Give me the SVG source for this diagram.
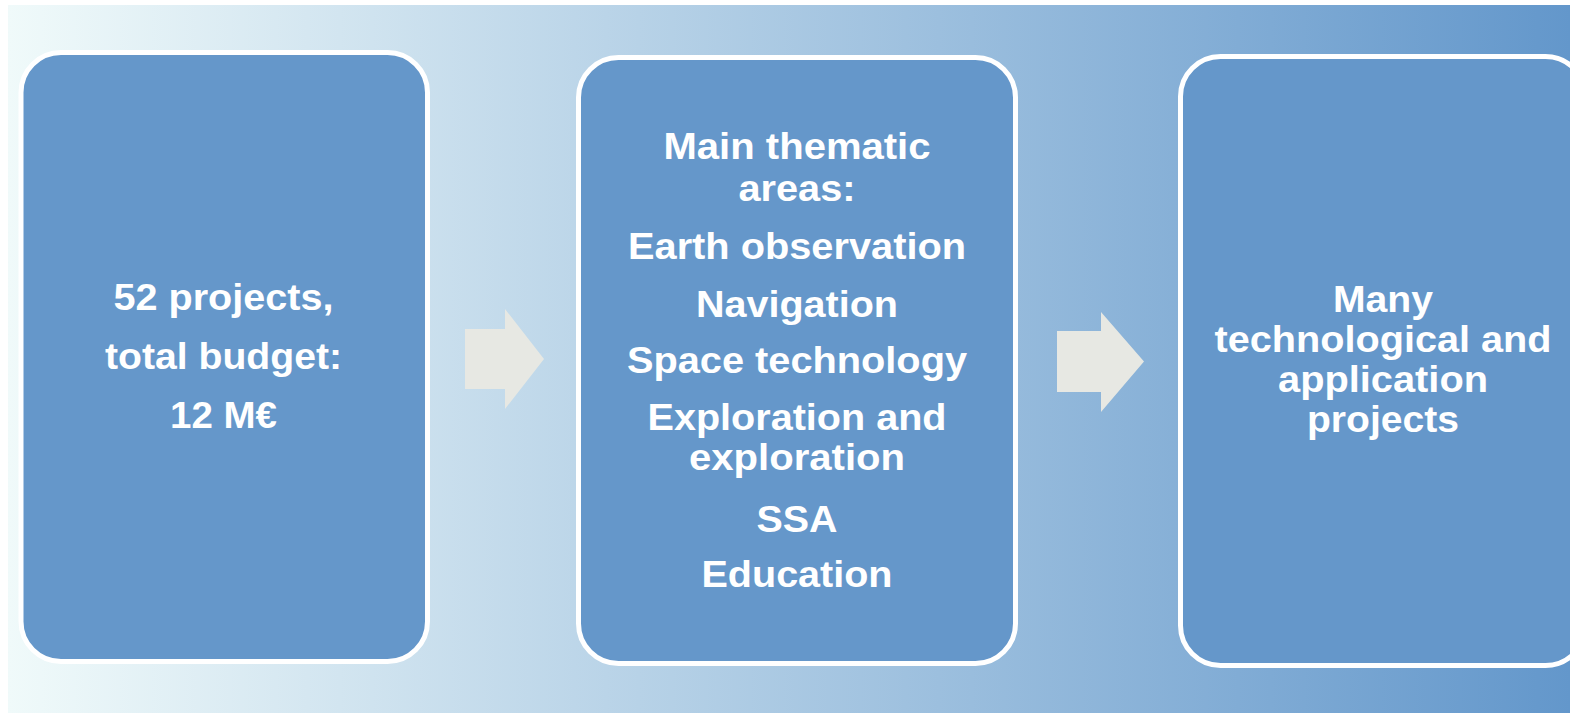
<svg xmlns="http://www.w3.org/2000/svg" width="1570" height="715" viewBox="0 0 1570 715">
  <defs>
    <linearGradient id="bg" x1="0" y1="0" x2="1" y2="0">
      <stop offset="0" stop-color="#F0FAFA"/>
      <stop offset="1" stop-color="#6397CB"/>
    </linearGradient>
    <style>
      .box { fill: #6597CA; stroke: #FFFFFF; stroke-width: 5; }
      .arrow { fill: #E7E8E3; }
      .t { font-family: "Liberation Sans", Arial, sans-serif; font-weight: bold; font-size: 37px; fill: #FFFFFF; text-anchor: middle; }
    </style>
  </defs>
  <rect x="0" y="0" width="1570" height="715" fill="#FFFFFF"/>
  <rect x="8" y="5" width="1562" height="708" fill="url(#bg)"/>

  <g id="connectors">
    <polygon class="arrow" points="465,329 505,329 505,309 544,359 505,409 505,389 465,389"/>
    <polygon class="arrow" points="1057,331 1101,331 1101,312 1144,361.5 1101,412 1101,392 1057,392"/>
  </g>

  <g id="node1">
    <rect class="box" x="21" y="52.5" width="406.5" height="609" rx="40" ry="40"/>
    <text class="t" x="223.5" y="310" textLength="220" lengthAdjust="spacingAndGlyphs">52 projects,</text>
    <text class="t" x="223.5" y="369" textLength="237" lengthAdjust="spacingAndGlyphs">total budget:</text>
    <text class="t" x="223.5" y="428" textLength="107" lengthAdjust="spacingAndGlyphs">12 M€</text>
  </g>

  <g id="node2">
    <rect class="box" x="578.5" y="57.5" width="437" height="606" rx="40" ry="40"/>
    <text class="t" x="797" y="159" textLength="267" lengthAdjust="spacingAndGlyphs">Main thematic</text>
    <text class="t" x="797" y="201" textLength="117" lengthAdjust="spacingAndGlyphs">areas:</text>
    <text class="t" x="797" y="259" textLength="338" lengthAdjust="spacingAndGlyphs">Earth observation</text>
    <text class="t" x="797" y="317" textLength="202" lengthAdjust="spacingAndGlyphs">Navigation</text>
    <text class="t" x="797" y="373" textLength="340" lengthAdjust="spacingAndGlyphs">Space technology</text>
    <text class="t" x="797" y="430" textLength="299" lengthAdjust="spacingAndGlyphs">Exploration and</text>
    <text class="t" x="797" y="470" textLength="216" lengthAdjust="spacingAndGlyphs">exploration</text>
    <text class="t" x="797" y="532" textLength="81" lengthAdjust="spacingAndGlyphs">SSA</text>
    <text class="t" x="797" y="587" textLength="191" lengthAdjust="spacingAndGlyphs">Education</text>
  </g>

  <g id="node3">
    <rect class="box" x="1180.5" y="56.5" width="405" height="609" rx="40" ry="40"/>
    <text class="t" x="1383" y="312" textLength="100" lengthAdjust="spacingAndGlyphs">Many</text>
    <text class="t" x="1383" y="352" textLength="337" lengthAdjust="spacingAndGlyphs">technological and</text>
    <text class="t" x="1383" y="392" textLength="210" lengthAdjust="spacingAndGlyphs">application</text>
    <text class="t" x="1383" y="432" textLength="152" lengthAdjust="spacingAndGlyphs">projects</text>
  </g>
</svg>
